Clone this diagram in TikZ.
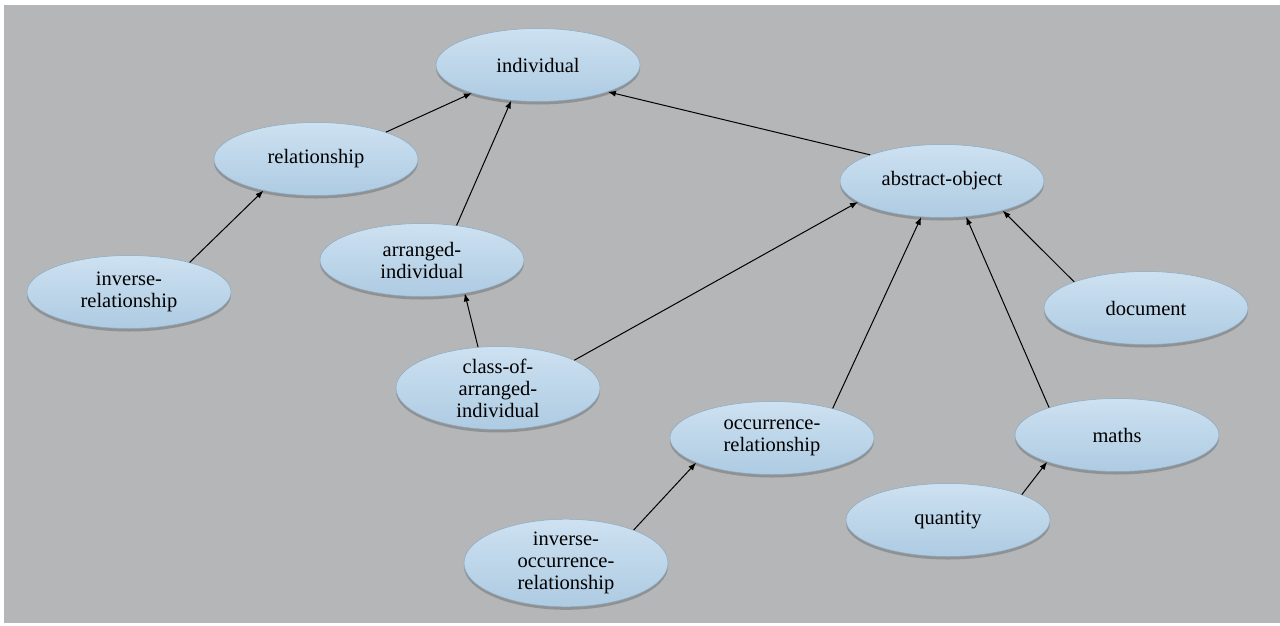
\documentclass[tikz,border=0pt]{standalone}
\usepackage{fontspec}
\setmainfont{Liberation Serif}
\usepackage{xcolor}
\usetikzlibrary{arrows.meta,shapes.geometric,shadows}

\definecolor{bggray}{RGB}{180,182,183}
\definecolor{nodetop}{RGB}{205,225,241}
\definecolor{nodemid}{RGB}{182,209,231}
\definecolor{nodebot}{RGB}{174,203,226}
\definecolor{noderim}{RGB}{140,170,195}

\begin{document}
\begin{tikzpicture}[
    x=1pt, y=-1pt,
    every node/.style={font=\fontsize{20.5}{22}\selectfont},
    concept/.style={
        ellipse,
        draw=noderim,
        line width=0.5pt,
        top color=nodetop,
        middle color=nodemid,
        bottom color=nodebot,
        drop shadow={shadow xshift=0pt, shadow yshift=-3pt,
                     fill=black!60, opacity=0.45},
        align=center,
        inner sep=0pt,
        minimum width=204pt,
        minimum height=73pt
    },
    arrow/.style={
        -{Latex[length=8pt,width=6pt]},
        line width=1pt
    }
]

% =========================================================
% BACKGROUND
% =========================================================

\useasboundingbox (0,0) rectangle (1280,625);
\fill[white] (0,0) rectangle (1280,625);
\fill[bggray] (4,5) rectangle (1280,623);

% =========================================================
% LEFT GROUP
% =========================================================

\node[concept] (individual) at (538,65) {individual};

\node[concept] (relationship) at (316,159) {relationship};

\node[concept] (invrel) at (129,292) {inverse-\\relationship};

\node[concept] (arranged) at (422,260) {arranged-\\individual};

\node[concept] (classarr) at (498,388) {class-of-\\arranged-\\individual};

% =========================================================
% RIGHT GROUP
% =========================================================

\node[concept] (abstract) at (942,181) {abstract-object};

\node[concept] (document) at (1146,308) {document};

\node[concept] (occrel) at (772,438) {occurrence-\\relationship};

\node[concept] (maths) at (1117,435) {maths};

\node[concept] (quantity) at (948,520) {quantity};

\node[concept] (invocc) at (566,563) {inverse-\\occurrence-\\relationship};

% =========================================================
% LINKS TO INDIVIDUAL
% =========================================================

\draw[arrow] (relationship.21) -- (individual.203);
\draw[arrow] (arranged.45) -- (individual.233);
\draw[arrow] (abstract.160) -- (individual.339);

\draw[arrow] (invrel.26) -- (relationship.211);
\draw[arrow] (classarr.116) -- (arranged.322);

% =========================================================
% LINKS TO ABSTRACT-OBJECT
% =========================================================

\draw[arrow] (classarr.20) -- (abstract.194);
\draw[arrow] (occrel.26) -- (abstract.240);
\draw[arrow] (maths.158) -- (abstract.304);
\draw[arrow] (document.160) -- (abstract.334);

\draw[arrow] (invocc.26) -- (occrel.198);
\draw[arrow] (quantity.19) -- (maths.201);

\end{tikzpicture}
\end{document}
